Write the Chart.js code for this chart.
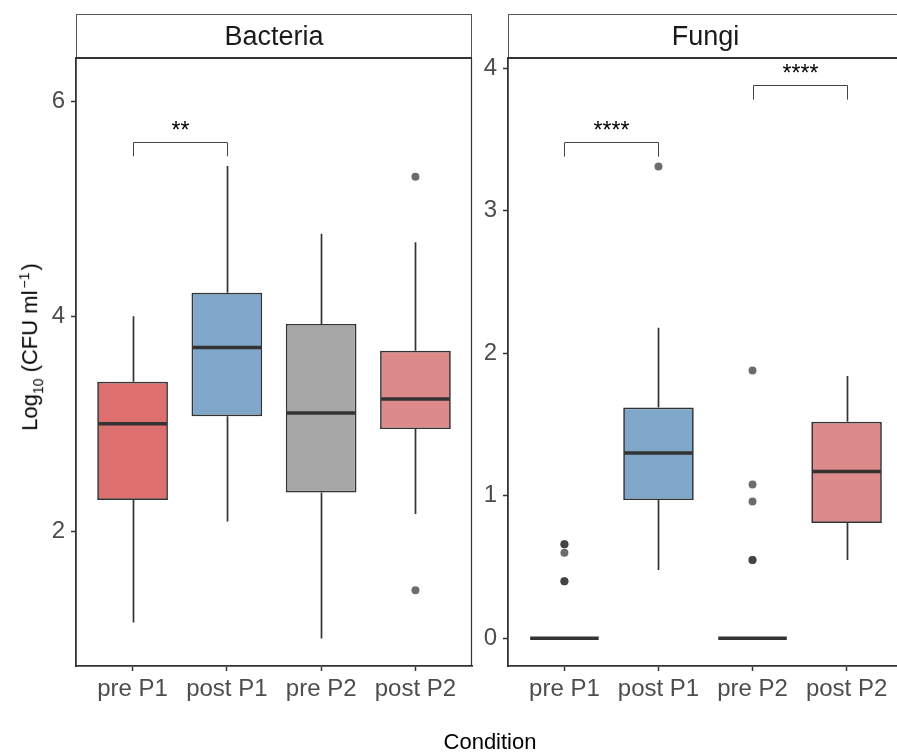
<!DOCTYPE html>
<html>
<head>
<meta charset="utf-8">
<script src="https://cdn.jsdelivr.net/npm/chart.js@4.4.1/dist/chart.umd.min.js"></script>
<style>
  body { margin: 0; width: 897px; height: 752px; overflow: hidden; background: #fff; position: relative;
         font-family: "Liberation Sans", Arial, sans-serif; }
  canvas { position: absolute; top: 0; }
  #bactChart { left: 0; }
  #fungiChart { left: 472px; }
  .y-title { position: absolute; left: 31px; top: 347px; transform: translate(-50%, -50%) rotate(-90deg);
             font-size: 22px; font-weight: normal; white-space: nowrap; color: #000; }
  .y-title sub, .y-title sup { font-size: 14px; }
  .y-title .gap { margin-left: 2px; }
  .x-title { position: absolute; left: 490px; top: 742px; transform: translate(-50%, -50%);
             font-size: 22px; color: #000; white-space: nowrap; }
</style>
</head>
<body>
<canvas id="bactChart" width="480" height="752"></canvas>
<canvas id="fungiChart" width="440" height="752"></canvas>
<div class="y-title">Log<sub>10</sub> (CFU ml<sup class="gap">−1</sup><span class="gap">)</span></div>
<div class="x-title">Condition</div>
<script>
const conditions = ['pre P1', 'post P1', 'pre P2', 'post P2']
const boxColors = ['#DE6F6F', '#7EA7CA', '#A6A6A6', '#DC8A8A']

// Bacteria boxes
const bactLow = [1.15, 2.09, 1.00, 2.16]
const bactQ1 = [2.29, 3.07, 2.36, 2.95]
const bactMedian = [3.00, 3.71, 3.10, 3.23]
const bactQ3 = [3.39, 4.22, 3.93, 3.68]
const bactHigh = [4.00, 5.40, 4.77, 4.69]
const bactOutliers = [[], [], [], [5.30, 1.45]]
const bactTicks = [2, 4, 6]
// bracket: [from, to, line y, tip y, label]
const bactBrackets = [[1, 2, 5.62, 5.49, '**']]

// Fungi boxes
const fungiLow = [0, 0.48, 0, 0.55]
const fungiQ1 = [0, 0.97, 0, 0.81]
const fungiMedian = [0, 1.30, 0, 1.17]
const fungiQ3 = [0, 1.62, 0, 1.52]
const fungiHigh = [0, 2.18, 0, 1.84]
const fungiOutliers = [[0.66, 0.66, 0.60, 0.40, 0.40], [3.31], [1.88, 1.08, 0.96, 0.55, 0.55], []]
const fungiTicks = [0, 1, 2, 3, 4]
const fungiBrackets = [[1, 2, 3.48, 3.38, '****'], [3, 4, 3.88, 3.78, '****']]

const FONT = '"Liberation Sans", Arial, sans-serif'
const DARK = '#333333'

// Whiskers, medians, brackets, strip and frame for one facet
function panelPlugin(name, low, median, high, brackets) {
    return {
        id: 'panel_' + name,
        beforeDatasetsDraw(chart) {
            const { ctx, scales: { x, y } } = chart
            ctx.save()
            ctx.strokeStyle = DARK
            ctx.lineWidth = 1.7
            const boxes = chart.data.datasets[0].data
            boxes.forEach(function (d, i) {
                const px = Math.round(x.getPixelForValue(d.x)) + 0.5
                ctx.beginPath()
                ctx.moveTo(px, y.getPixelForValue(low[i]))
                ctx.lineTo(px, y.getPixelForValue(d.y[0]))
                ctx.moveTo(px, y.getPixelForValue(d.y[1]))
                ctx.lineTo(px, y.getPixelForValue(high[i]))
                ctx.stroke()
            })
            ctx.restore()
        },
        afterDatasetsDraw(chart) {
            const { ctx, scales: { x, y } } = chart
            const bars = chart.getDatasetMeta(0).data
            ctx.save()
            // medians
            ctx.strokeStyle = DARK
            ctx.lineWidth = 3.5
            bars.forEach(function (bar, i) {
                const py = y.getPixelForValue(median[i])
                ctx.beginPath()
                ctx.moveTo(bar.x - bar.width / 2 + 1, py)
                ctx.lineTo(bar.x + bar.width / 2 - 1, py)
                ctx.stroke()
            })
            // significance brackets
            ctx.strokeStyle = '#444'
            ctx.lineWidth = 1
            ctx.fillStyle = '#000'
            ctx.font = '23px ' + FONT
            ctx.textAlign = 'center'
            ctx.textBaseline = 'alphabetic'
            brackets.forEach(function (b) {
                const x1 = Math.round(x.getPixelForValue(b[0])) + 0.5
                const x2 = Math.round(x.getPixelForValue(b[1])) + 0.5
                const yl = Math.round(y.getPixelForValue(b[2])) + 0.5
                const yt = y.getPixelForValue(b[3])
                ctx.beginPath()
                ctx.moveTo(x1, yt)
                ctx.lineTo(x1, yl)
                ctx.lineTo(x2, yl)
                ctx.lineTo(x2, yt)
                ctx.stroke()
                ctx.fillText(b[4], (x1 + x2) / 2, yl - 5)
            })
            ctx.restore()
        },
        afterDraw(chart) {
            const { ctx, chartArea: a } = chart
            ctx.save()
            // strip
            ctx.fillStyle = '#fff'
            ctx.fillRect(a.left, 14, a.right - a.left, a.top - 14)
            ctx.strokeStyle = '#555'
            ctx.lineWidth = 1
            ctx.strokeRect(a.left + 0.5, 14.5, a.right - a.left - 1, a.top - 14)
            ctx.fillStyle = '#1A1A1A'
            ctx.font = '27px ' + FONT
            ctx.textAlign = 'center'
            ctx.textBaseline = 'middle'
            ctx.fillText(name, (a.left + a.right) / 2, 38)
            // frame: top and right
            ctx.strokeStyle = DARK
            ctx.lineWidth = 1.8
            ctx.beginPath()
            ctx.moveTo(a.left, a.top)
            ctx.lineTo(a.right, a.top)
            ctx.stroke()
            ctx.lineWidth = 1.2
            ctx.beginPath()
            ctx.moveTo(a.right - 0.5, a.top)
            ctx.lineTo(a.right - 0.5, a.bottom)
            ctx.stroke()
            ctx.restore()
        }
    }
}

function makePanel(canvasId, name, low, q1, median, q3, high, outliers, yTicks, yMin, yMax, yWidth, padRight, brackets) {
    const boxData = conditions.map(function (c, i) { return { x: i + 1, y: [q1[i], q3[i]] } })
    const outlierData = outliers.flatMap(function (vals, i) {
        return vals.map(function (v) { return { x: i + 1, y: v } })
    })

    return new Chart(document.getElementById(canvasId), {
        type: 'bar',
        data: {
            datasets: [
                {
                    type: 'bar',
                    data: boxData,
                    backgroundColor: boxColors,
                    borderColor: DARK,
                    borderWidth: 1.7,
                    borderSkipped: false,
                    barPercentage: 0.75,
                    categoryPercentage: 1,
                    order: 2
                },
                {
                    type: 'scatter',
                    data: outlierData,
                    backgroundColor: 'rgba(51, 51, 51, 0.72)',
                    borderWidth: 0,
                    pointRadius: 4,
                    order: 1
                }
            ]
        },
        options: {
            responsive: false,
            animation: false,
            events: [],
            layout: { padding: { left: 0, right: padRight, top: 58, bottom: 0 } },
            plugins: { legend: { display: false }, tooltip: { enabled: false } },
            scales: {
                x: {
                    type: 'linear',
                    min: 0.4,
                    max: 4.6,
                    offset: false,
                    afterBuildTicks: function (s) { s.ticks = conditions.map(function (c, i) { return { value: i + 1 } }) },
                    afterFit: function (s) { s.height = 86 },
                    ticks: {
                        callback: function (v) { return conditions[v - 1] },
                        font: { size: 24, family: FONT },
                        color: '#4D4D4D',
                        padding: 4,
                        autoSkip: false,
                        maxRotation: 0
                    },
                    grid: { drawOnChartArea: false, offset: false, tickLength: 5, tickColor: DARK, tickWidth: 1.5 },
                    border: { display: true, color: DARK, width: 1.8 }
                },
                y: {
                    min: yMin,
                    max: yMax,
                    afterBuildTicks: function (s) { s.ticks = yTicks.map(function (v) { return { value: v } }) },
                    afterFit: function (s) { s.width = yWidth },
                    ticks: {
                        font: { size: 24, family: FONT },
                        color: '#4D4D4D',
                        padding: 6
                    },
                    grid: { drawOnChartArea: false, tickLength: 5, tickColor: DARK, tickWidth: 1.5 },
                    border: { display: true, color: DARK, width: 1.8 }
                }
            }
        },
        plugins: [panelPlugin(name, low, median, high, brackets)]
    })
}

makePanel('bactChart', 'Bacteria', bactLow, bactQ1, bactMedian, bactQ3, bactHigh, bactOutliers,
    bactTicks, 0.744, 6.406, 76, 8, bactBrackets)
makePanel('fungiChart', 'Fungi', fungiLow, fungiQ1, fungiMedian, fungiQ3, fungiHigh, fungiOutliers,
    fungiTicks, -0.194, 4.072, 36, 9, fungiBrackets)
</script>
</body>
</html>
